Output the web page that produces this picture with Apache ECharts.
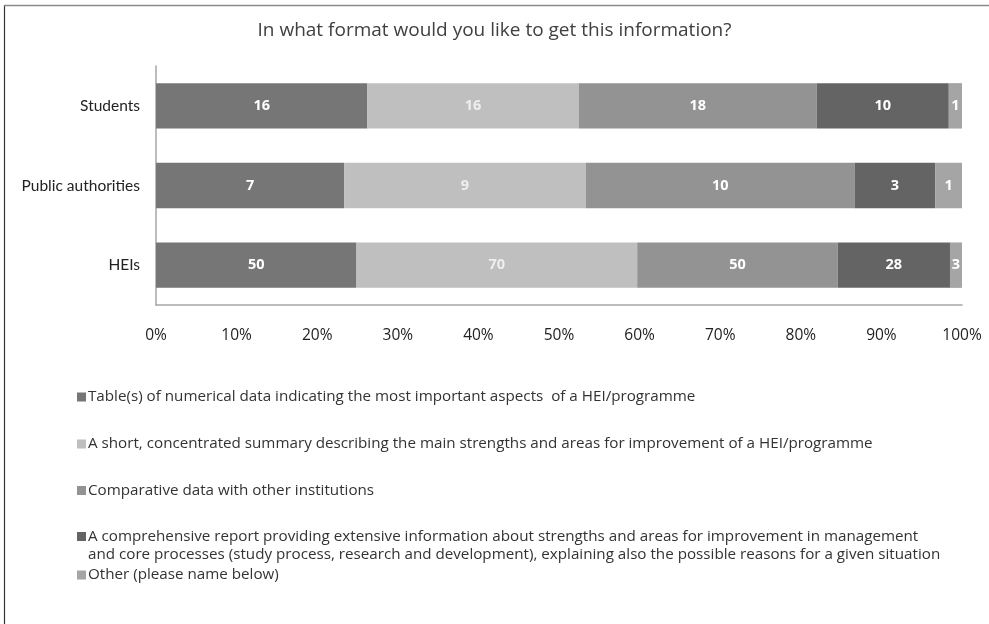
<!DOCTYPE html>
<html>
<head>
<meta charset="utf-8">
<style>
  html, body { margin: 0; padding: 0; background: #fff; }
  #chart { width: 989px; height: 624px; }
</style>
<script src="https://cdn.jsdelivr.net/npm/echarts@6/dist/echarts.min.js"></script>
</head>
<body>
<div id="chart"></div>
<script>
// Respondent groups (top to bottom)
const groups = ['Students', 'Public authorities', 'HEIs'];

// Preferred format answers, counts per group
const formats = [
  'Table(s) of numerical data indicating the most important aspects  of a HEI/programme',
  'A short, concentrated summary describing the main strengths and areas for improvement of a HEI/programme',
  'Comparative data with other institutions',
  'A comprehensive report providing extensive information about strengths and areas for improvement in management\nand core processes (study process, research and development), explaining also the possible reasons for a given situation',
  'Other (please name below)'
];
const tableCounts       = [16, 7, 50];
const summaryCounts     = [16, 9, 70];
const comparativeCounts = [18, 10, 50];
const reportCounts      = [10, 3, 28];
const otherCounts       = [1, 1, 3];

const xTicks = [0, 10, 20, 30, 40, 50, 60, 70, 80, 90, 100];

const counts = [tableCounts, summaryCounts, comparativeCounts, reportCounts, otherCounts];
const colors = ['#767676', '#bfbfbf', '#939393', '#636463', '#a5a5a5'];
const labelColors = ['#ffffff', '#eeeeee', '#ffffff', '#ffffff', '#ffffff'];

const totals = groups.map((_, i) => counts.reduce((s, arr) => s + arr[i], 0));

const series = counts.map((arr, k) => ({
  name: formats[k],
  type: 'bar',
  stack: 'all',
  barCategoryGap: '43%',
  itemStyle: { color: colors[k] },
  label: {
    show: true,
    position: 'inside',
    color: labelColors[k],
    fontFamily: 'Open Sans',
    fontWeight: 'bold',
    fontSize: 14.5,
    formatter: p => String(arr[p.dataIndex])
  },
  data: arr.map((v, i) => v / totals[i] * 100)
}));

// Square marker; the wrapped entry gets a taller box so the square sits on its first line
const squareIcon = 'rect';
const tallSquareIcon = 'path://M0,0H9V9H0Z M0,27H0.01V27.01H0Z';

// One legend block per answer so the rows keep their own spacing
const legendTops = [383, 430, 476.5, 522.5, 561];
const legends = formats.map((name, k) => ({
  data: [name],
  left: 72,
  top: legendTops[k],
  orient: 'vertical',
  icon: k === 3 ? tallSquareIcon : squareIcon,
  itemWidth: 9,
  itemHeight: k === 3 ? 27 : 9,
  selectedMode: false,
  textStyle: {
    fontFamily: 'Open Sans',
    fontSize: 15.2,
    color: '#333333',
    lineHeight: 18,
    padding: [0, 0, 0, -3]
  }
}));

const chart = echarts.init(document.getElementById('chart'), null, { renderer: 'canvas' });
chart.setOption({
  animation: false,
  backgroundColor: '#ffffff',
  title: {
    text: 'In what format would you like to get this information?',
    left: 'center',
    top: 16,
    textStyle: {
      fontFamily: 'Open Sans',
      fontWeight: 'normal',
      fontSize: 19,
      color: '#404040'
    }
  },
  grid: { left: 156, right: 27, top: 66, bottom: 319 },
  xAxis: {
    type: 'value',
    min: 0,
    max: 100,
    interval: 10,
    axisLine: { show: true, lineStyle: { color: '#a6a6a6', width: 1.5 } },
    axisTick: { show: false },
    splitLine: { show: false },
    axisLabel: {
      margin: 23,
      fontFamily: 'Open Sans',
      fontSize: 15.5,
      color: '#222222',
      customValues: xTicks,
      formatter: '{value}%'
    }
  },
  yAxis: {
    type: 'category',
    data: groups,
    inverse: true,
    axisLine: { show: true, lineStyle: { color: '#a6a6a6', width: 1.5 } },
    axisTick: { show: false },
    axisLabel: {
      margin: 16,
      fontFamily: 'Lato',
      fontSize: 15.5,
      color: '#222222'
    }
  },
  legend: legends,
  graphic: [
    { type: 'line', shape: { x1: 4.5, y1: 5, x2: 4.5, y2: 624 }, style: { stroke: '#333333', lineWidth: 1.2 } },
    { type: 'line', shape: { x1: 4, y1: 5.5, x2: 989, y2: 5.5 }, style: { stroke: '#8a8a8a', lineWidth: 1.5 } }
  ],
  series: series
});
</script>
</body>
</html>
